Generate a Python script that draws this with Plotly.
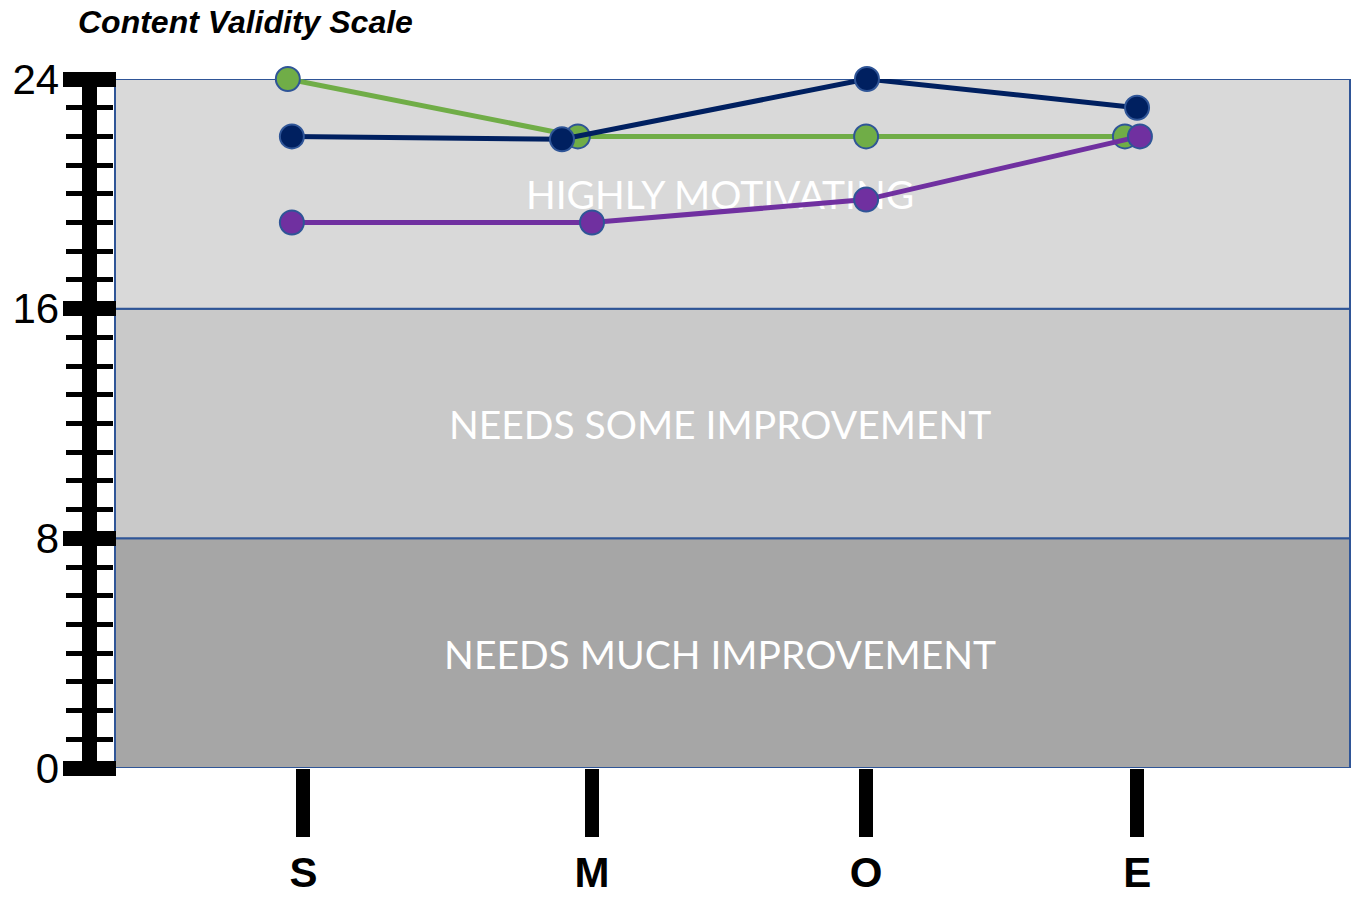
import plotly.graph_objects as go

# Stages on the horizontal axis and where their ticks sit
stages = ["S", "M", "O", "E"]
stage_pos = [1.0, 2.0, 2.95, 3.89]

# Scale bands (lower, upper, label, fill)
band_lo = [0, 8, 16]
band_hi = [8, 16, 24]
band_names = ["NEEDS MUCH IMPROVEMENT", "NEEDS SOME IMPROVEMENT", "HIGHLY MOTIVATING"]
band_fill = ["#a6a6a6", "#c9c9c9", "#d9d9d9"]

# Series: horizontal placement and score per stage
green_x = [0.946, 1.951, 2.95, 3.847]
green_y = [24, 22, 22, 22]
navy_x = [0.96, 1.896, 2.953, 3.889]
navy_y = [22, 21.9, 24, 23]
purple_x = [0.96, 2.0, 2.95, 3.899]
purple_y = [19, 19, 19.8, 22]

major_ticks = [0, 8, 16, 24]

LEFT, RIGHT = 89, 10
PLOT_W = 1360 - LEFT - RIGHT

fig = go.Figure()

# band captions sit underneath the series lines
fig.add_trace(go.Scatter(
    x=[2.444] * 3,
    y=[(lo + hi) / 2 - 0.2 for lo, hi in zip(band_lo, band_hi)],
    mode="text",
    text=band_names,
    textfont=dict(family="Lato", size=39, color="white"),
    hoverinfo="skip",
    showlegend=False,
))

edge = "#2f5597"
for xs, ys, col in [(green_x, green_y, "#70ad47"),
                    (navy_x, navy_y, "#002060"),
                    (purple_x, purple_y, "#7030a0")]:
    fig.add_trace(go.Scatter(
        x=xs, y=ys, mode="lines+markers",
        line=dict(color=col, width=5),
        marker=dict(size=24, color=col, line=dict(color=edge, width=2)),
        cliponaxis=False,
        showlegend=False,
    ))

for lo, hi, col in zip(band_lo, band_hi, band_fill):
    fig.add_shape(type="rect", xref="x domain", yref="y",
                  x0=0, x1=1, y0=lo, y1=hi,
                  fillcolor=col, line=dict(color=edge, width=2),
                  layer="below")

# thick spine of the ruler-style scale
fig.add_shape(type="line", xref="paper", yref="y",
              x0=0.5 / PLOT_W, x1=0.5 / PLOT_W, y0=0, y1=24,
              line=dict(color="black", width=15), layer="above")

yaxis_common = dict(
    range=[0, 24], anchor="free",
    showline=False,
    tickmode="array", tickvals=major_ticks,
    tickcolor="black", tickwidth=15, ticks="outside",
    showgrid=False, zeroline=False, fixedrange=True, automargin=False,
)

fig.update_layout(
    width=1360, height=898,
    margin=dict(l=LEFT, r=RIGHT, t=79, b=130),
    paper_bgcolor="white", plot_bgcolor="white",
    title=dict(text="<b><i>Content Validity Scale</i></b>",
               x=78 / 1360, xanchor="left", y=1 - 22 / 898, yanchor="middle",
               font=dict(family="Arial", size=32, color="black")),
    xaxis=dict(
        domain=[26 / PLOT_W, 1], range=[0.347, 4.627], anchor="y",
        tickmode="array", tickvals=stage_pos, ticktext=stages,
        ticks="outside", ticklen=68, tickwidth=14, tickcolor="black",
        tickfont=dict(family="Arial", size=42, color="black", weight="bold"),
        showline=False, showgrid=False, zeroline=False, automargin=False,
    ),
    # left half of the scale ticks, with the labels
    yaxis=dict(
        **yaxis_common,
        side="left", position=1.5 / PLOT_W, ticklen=28,
        ticktext=[str(v) for v in major_ticks],
        tickfont=dict(family="Arial", size=42, color="black"),
        ticklabelstandoff=-5,
        minor=dict(ticks="outside", ticklen=25, tickwidth=5,
                   tickcolor="black", dtick=1, showgrid=False),
    ),
    # right half of the scale ticks, pointing toward the plot
    yaxis2=dict(
        **yaxis_common,
        overlaying="y", side="right", position=0,
        ticklen=26, showticklabels=False,
        minor=dict(ticks="outside", ticklen=23, tickwidth=5,
                   tickcolor="black", dtick=1, showgrid=False),
    ),
)

# invisible trace so the second axis is drawn
fig.add_trace(go.Scatter(x=[stage_pos[0]], y=[0], yaxis="y2", mode="markers",
                         marker=dict(opacity=0), hoverinfo="skip",
                         showlegend=False))

fig.write_html("out.html")
